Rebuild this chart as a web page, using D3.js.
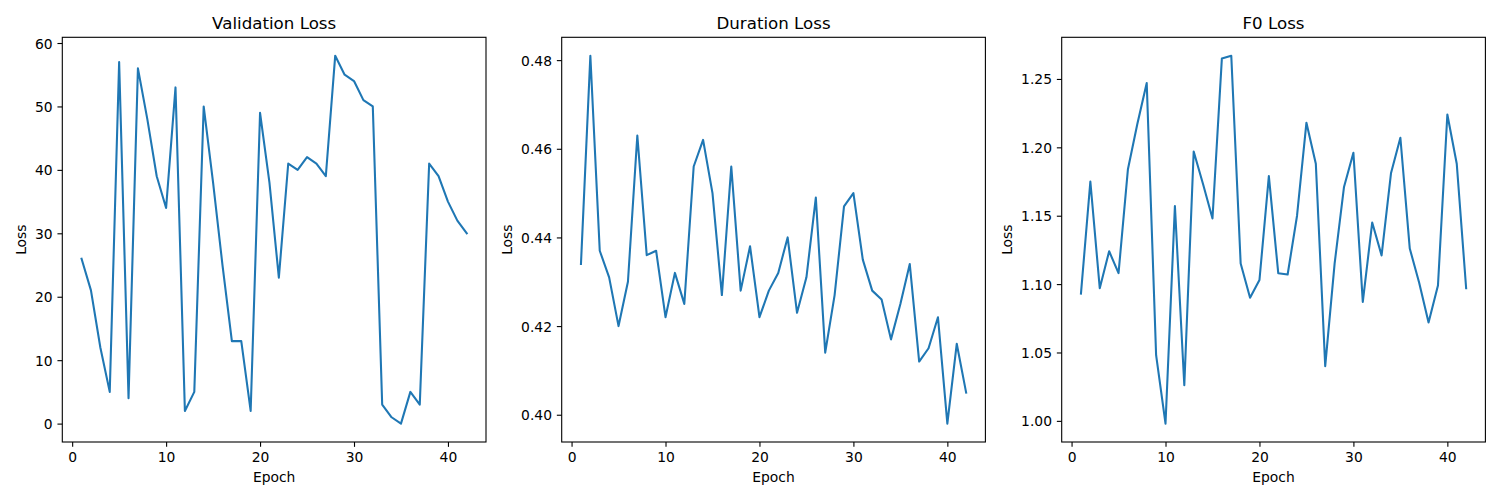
<!DOCTYPE html>
<html>
<head>
<meta charset="utf-8">
<script src="https://cdn.jsdelivr.net/npm/d3@7"></script>
<style>
  html, body { margin: 0; padding: 0; background: #fff; }
  svg text { font-family: "DejaVu Sans", sans-serif; fill: #000; }
</style>
</head>
<body>
<svg id="chart" width="1500" height="500"></svg>
<script>
const epochs = d3.range(1, 43);
const validationLoss = [26, 21, 12, 5, 57, 4, 56, 48, 39, 34, 53, 2, 5, 50, 38, 25, 13, 13, 2, 49,
  38, 23, 41, 40, 42, 41, 39, 58, 55, 54, 51, 50, 3, 1, 0, 5, 3, 41, 39, 35, 32, 30];
const durationLoss = [0.434, 0.481, 0.437, 0.431, 0.420, 0.430, 0.463, 0.436, 0.437, 0.422, 0.432, 0.425,
  0.456, 0.462, 0.450, 0.427, 0.456, 0.428, 0.438, 0.422, 0.428, 0.432, 0.440, 0.423, 0.431, 0.449,
  0.414, 0.427, 0.447, 0.450, 0.435, 0.428, 0.426, 0.417, 0.425, 0.434, 0.412, 0.415, 0.422, 0.398,
  0.416, 0.405];
const f0Loss = [1.093, 1.175, 1.097, 1.124, 1.108, 1.184, 1.217, 1.247, 1.048, 0.998, 1.157, 1.026,
  1.197, 1.173, 1.148, 1.265, 1.267, 1.115, 1.090, 1.103, 1.179, 1.108, 1.107, 1.150, 1.218, 1.188,
  1.040, 1.115, 1.171, 1.196, 1.087, 1.145, 1.121, 1.181, 1.207, 1.126, 1.101, 1.072, 1.099, 1.224,
  1.188, 1.097];
const titles = ["Validation Loss", "Duration Loss", "F0 Loss"];
const xTicks = [0, 10, 20, 30, 40];
const valTicks = [0, 10, 20, 30, 40, 50, 60];
const durTicks = [0.40, 0.42, 0.44, 0.46, 0.48];
const f0Ticks = [1.00, 1.05, 1.10, 1.15, 1.20, 1.25];

const panels = [
  { title: titles[0], values: validationLoss, yTicks: valTicks, fmt: d3.format("d"), left: 62.3 },
  { title: titles[1], values: durationLoss, yTicks: durTicks, fmt: d3.format(".2f"), left: 561.7 },
  { title: titles[2], values: f0Loss, yTicks: f0Ticks, fmt: d3.format(".2f"), left: 1061.7 }
];

const svg = d3.select("#chart");
const plotTop = 37.3, plotBottom = 442, plotWidth = 423.7;
const tickLen = 4.86, tickPad = 4.86;
const tickFont = 13.89, titleFont = 16.67;
const color = "#1f77b4";

function padDomain(ext) {
  const m = (ext[1] - ext[0]) * 0.05;
  return [ext[0] - m, ext[1] + m];
}

panels.forEach(p => {
  const x = d3.scaleLinear().domain(padDomain(d3.extent(epochs))).range([p.left, p.left + plotWidth]);
  const y = d3.scaleLinear().domain(padDomain(d3.extent(p.values))).range([plotBottom, plotTop]);
  const g = svg.append("g");

  const line = d3.line().x((d, i) => x(epochs[i])).y(d => y(d));
  g.append("path").datum(p.values)
    .attr("d", line).attr("fill", "none").attr("stroke", color)
    .attr("stroke-width", 2.08).attr("stroke-linejoin", "round").attr("stroke-linecap", "square");

  g.append("rect").attr("x", p.left).attr("y", plotTop).attr("width", plotWidth).attr("height", plotBottom - plotTop)
    .attr("fill", "none").attr("stroke", "#000").attr("stroke-width", 1.1);

  const xa = g.append("g").attr("transform", `translate(0,${plotBottom})`)
    .call(d3.axisBottom(x).tickValues(xTicks).tickFormat(d3.format("d")).tickSize(tickLen).tickPadding(tickPad));
  xa.select(".domain").remove();
  xa.selectAll("line").attr("stroke", "#000").attr("stroke-width", 1.1);
  xa.selectAll("text").attr("font-size", tickFont).attr("font-family", "DejaVu Sans").attr("dy", "0.74em");

  const ya = g.append("g").attr("transform", `translate(${p.left},0)`)
    .call(d3.axisLeft(y).tickValues(p.yTicks).tickFormat(p.fmt).tickSize(tickLen).tickPadding(tickPad));
  ya.select(".domain").remove();
  ya.selectAll("line").attr("stroke", "#000").attr("stroke-width", 1.1);
  ya.selectAll("text").attr("font-size", tickFont).attr("font-family", "DejaVu Sans").attr("dy", "0.36em");

  g.append("text").attr("x", p.left + plotWidth / 2).attr("y", plotTop - 8.33)
    .attr("text-anchor", "middle").attr("font-size", titleFont).text(p.title);

  g.append("text").attr("x", p.left + plotWidth / 2).attr("y", 482)
    .attr("text-anchor", "middle").attr("font-size", tickFont).text("Epoch");

  let maxW = 0;
  ya.selectAll("text").each(function () { maxW = Math.max(maxW, this.getComputedTextLength()); });
  const lx = p.left - tickLen - tickPad - maxW - 5.56 - 3.3;
  g.append("text").attr("transform", `translate(${lx},${(plotTop + plotBottom) / 2}) rotate(-90)`)
    .attr("text-anchor", "middle").attr("font-size", tickFont).text("Loss");
});
</script>
</body>
</html>
